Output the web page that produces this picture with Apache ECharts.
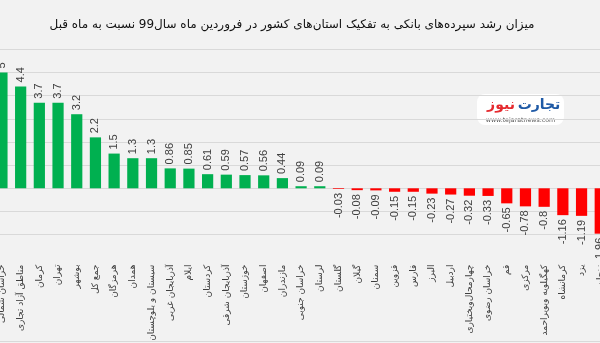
<!DOCTYPE html>
<html>
<head>
<meta charset="utf-8">
<script src="https://cdn.jsdelivr.net/npm/echarts@6/dist/echarts.min.js"></script>
<style>
  html, body { margin: 0; padding: 0; background: #f2f2f2; }
  #chart { width: 600px; height: 343px; }
</style>
</head>
<body>
<div id="chart"></div>
<script>
// Provinces (plus free zones and the national total), sorted by monthly growth
const categories = [
  'خراسان شمالی', 'مناطق آزاد تجاری', 'کرمان', 'تهران', 'بوشهر', 'جمع کل',
  'هرمزگان', 'همدان', 'سیستان و بلوچستان', 'آذربایجان غربی', 'ایلام',
  'کردستان', 'آذربایجان شرقی', 'خوزستان', 'اصفهان', 'مازندران',
  'خراسان جنوبی', 'لرستان', 'گلستان', 'گیلان', 'سمنان', 'قزوین', 'فارس',
  'البرز', 'اردبیل', 'چهارمحال‌وبختیاری', 'خراسان رضوی', 'قم', 'مرکزی',
  'کهگیلویه وبویراحمد', 'کرمانشاه', 'یزد', 'زنجان'
];

// Deposit growth (percent) in Farvardin 99 vs. the previous month
const growth = [
  5, 4.4, 3.7, 3.7, 3.2, 2.2,
  1.5, 1.3, 1.3, 0.86, 0.85,
  0.61, 0.59, 0.57, 0.56, 0.44,
  0.09, 0.09, -0.03, -0.08, -0.09, -0.15, -0.15,
  -0.23, -0.27, -0.32, -0.33, -0.65, -0.78,
  -0.8, -1.16, -1.19, -1.96
];

const titleText = 'میزان رشد سپرده‌های بانکی به تفکیک استان‌های کشور در فروردین ماه سال99 نسبت به ماه قبل';

const GREEN = '#00b050';
const RED = '#ff0000';
const FA_FONT = 'DejaVu Sans';

const chart = echarts.init(document.getElementById('chart'), null, { renderer: 'canvas' });

const seriesData = growth.map(v => ({
  value: v,
  itemStyle: { color: v >= 0 ? GREEN : RED },
  label: v >= 0
    ? { position: 'top', align: 'left', verticalAlign: 'middle' }
    : { position: 'bottom', align: 'right', verticalAlign: 'middle' }
}));

chart.setOption({
  backgroundColor: '#f2f2f2',
  animation: false,
  title: {
    text: titleText,
    left: 287,
    top: 14,
    textAlign: 'center',
    textStyle: { fontFamily: FA_FONT, fontSize: 12, fontWeight: 'normal', color: '#111111' }
  },
  grid: {
    left: -7.4,
    top: 49.4,
    width: 617,
    height: 185.2,
    outerBoundsMode: 'none',
    containLabel: false
  },
  xAxis: {
    type: 'category',
    data: categories,
    position: 'bottom',
    axisLine: { show: false, onZero: false },
    axisTick: { show: false },
    axisLabel: {
      interval: 0,
      rotate: 90,
      margin: 30,
      fontFamily: FA_FONT,
      fontSize: 9,
      color: '#404040'
    }
  },
  yAxis: {
    type: 'value',
    min: -2,
    max: 6,
    interval: 1,
    axisLabel: { show: false },
    axisLine: { show: false },
    axisTick: { show: false },
    splitLine: { lineStyle: { color: '#d9d9d9', width: 1 } }
  },
  series: [{
    type: 'bar',
    data: seriesData,
    barCategoryGap: '40%',
    label: {
      show: true,
      rotate: 90,
      distance: 4,
      fontFamily: 'Liberation Sans',
      fontSize: 11,
      color: '#404040',
      formatter: p => String(p.value)
    }
  }],
  graphic: [
    {
      type: 'line',
      shape: { x1: 0, y1: 341.5, x2: 600, y2: 341.5 },
      style: { stroke: '#d9d9d9', lineWidth: 1 }
    },
    {
      type: 'group',
      left: 477,
      top: 94,
      children: [
        {
          type: 'rect',
          shape: { x: 0, y: 0, width: 87, height: 31, r: 8 },
          style: { fill: '#ffffff' }
        },
        {
          type: 'text',
          x: 62, y: 4,
          style: {
            text: 'تجارت', fill: '#1f5aa6', align: 'center',
            font: 'bold 14px "DejaVu Sans"'
          }
        },
        {
          type: 'text',
          x: 24, y: 4,
          style: {
            text: 'نیوز', fill: '#e52a2f', align: 'center',
            font: 'bold 14px "DejaVu Sans"'
          }
        },
        {
          type: 'text',
          x: 43.5, y: 23,
          style: {
            text: 'www.tejaratnews.com', fill: '#555555', align: 'center',
            font: '6.3px "DejaVu Sans"'
          }
        }
      ]
    }
  ]
});
</script>
</body>
</html>
